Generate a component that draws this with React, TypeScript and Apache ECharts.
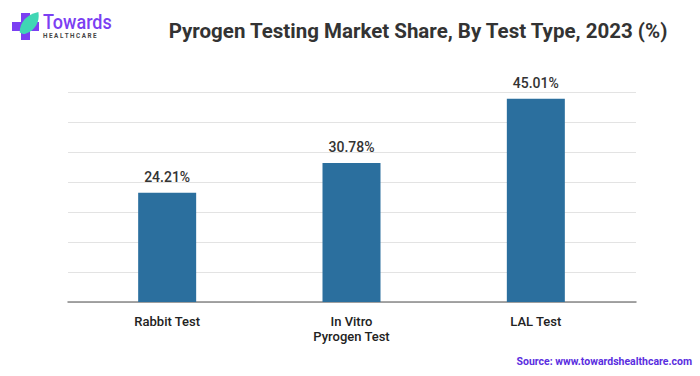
import React, { useEffect, useRef } from "react";
import * as echarts from "echarts";

const categories = ["Rabbit Test", "In Vitro\nPyrogen Test", "LAL Test"];
const shares = [24.21, 30.78, 45.01];
const yMax = 46.5;
const splitCount = 7;

echarts.graphic.registerShape(
  "leaf",
  echarts.graphic.extendPath(
    "M2 24 C2 12 10 3 24 0 C26 12 20 22 8 26 C6 26 4 25 2 24 Z",
    {}
  )
);

export default function App() {
  const ref = useRef<HTMLDivElement>(null);
  useEffect(() => {
    if (!ref.current) return;
    const chart = echarts.init(ref.current, undefined, { renderer: "svg" });
    chart.setOption({
      animation: false,
      backgroundColor: "#ffffff",
      grid: [
        { left: 68, right: 64, top: 92, bottom: 74, containLabel: false },
        { left: 75, right: 72, top: 92, bottom: 74, containLabel: false },
      ],
      title: {
        text: "Pyrogen Testing Market Share, By Test Type, 2023 (%)",
        left: 413,
        top: 15,
        textAlign: "center",
        textStyle: {
          fontFamily: "Roboto",
          fontSize: 20.5,
          fontWeight: "bold",
          color: "#333333",
        },
      },
      xAxis: [
        {
          type: "category",
          gridIndex: 0,
          data: categories,
          axisLine: { lineStyle: { color: "#888888", width: 1.5 } },
          axisTick: { show: false },
          axisLabel: { show: false },
        },
        {
          type: "category",
          gridIndex: 1,
          data: categories,
          axisLine: { show: false },
          axisTick: { show: false },
          axisLabel: {
            fontFamily: "Roboto",
            fontSize: 13,
            fontWeight: 500,
            color: "#222222",
            lineHeight: 15,
            margin: 12,
            interval: 0,
          },
        },
      ],
      yAxis: [
        {
          type: "value",
          gridIndex: 0,
          min: 0,
          max: yMax,
          interval: yMax / splitCount,
          axisLabel: { show: false },
          axisLine: { show: false },
          axisTick: { show: false },
          splitLine: { lineStyle: { color: "#e3e3e3", width: 1 } },
        },
        {
          type: "value",
          gridIndex: 1,
          min: 0,
          max: yMax,
          interval: yMax / splitCount,
          axisLabel: { show: false },
          axisLine: { show: false },
          axisTick: { show: false },
          splitLine: { show: false },
        },
      ],
      series: [
        {
          type: "bar",
          xAxisIndex: 1,
          yAxisIndex: 1,
          data: shares,
          barWidth: 58,
          itemStyle: { color: "#2b6f9e" },
          label: {
            show: true,
            position: "top",
            distance: 9,
            formatter: (p: any) => p.value.toFixed(2) + "%",
            fontFamily: "Roboto",
            fontSize: 14,
            fontWeight: 500,
            color: "#333333",
          },
        },
      ],
      graphic: [
        { type: "rect", shape: { x: 21, y: 13, width: 9, height: 27 }, style: { fill: "#7b3ff2" } },
        { type: "rect", shape: { x: 12, y: 22, width: 27, height: 9 }, style: { fill: "#7b3ff2" } },
        {
          type: "leaf",
          x: 18,
          y: 12,
          scaleX: 0.85,
          scaleY: 0.85,
          style: { fill: "#3fd6b4" },
        },
        {
          type: "text",
          x: 43,
          y: 12,
          scaleX: 0.86,
          style: {
            text: "Towards",
            font: "500 21px Roboto",
            fill: "#7b3ff2",
          },
        },
        {
          type: "text",
          x: 43,
          y: 33,
          style: {
            text: "H E A L T H C A R E",
            font: "bold 6.3px Roboto",
            fill: "#444444",
          },
        },
        {
          type: "text",
          right: 8,
          top: 356,
          style: {
            text: "Source: www.towardshealthcare.com",
            font: "bold 10.5px Roboto",
            fill: "#5a2ee0",
          },
        },
      ],
    });
    return () => chart.dispose();
  }, []);
  return <div ref={ref} style={{ width: 700, height: 376, position: "absolute", left: 0, top: 0 }} />;
}
